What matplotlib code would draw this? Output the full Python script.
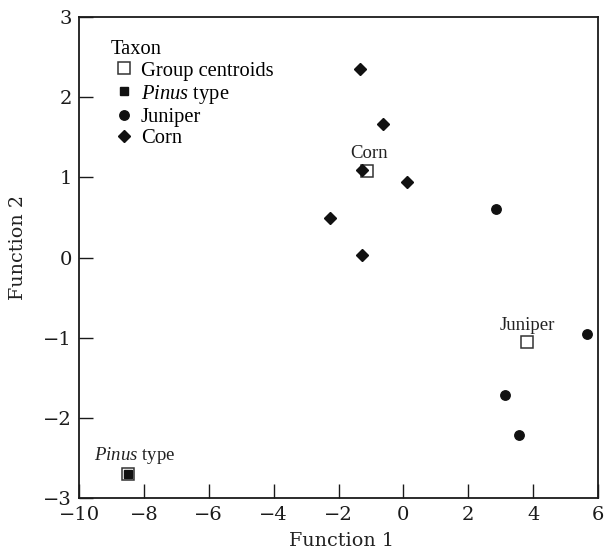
import matplotlib
matplotlib.use("Agg")
import matplotlib.pyplot as plt
from matplotlib.lines import Line2D

plt.rcParams['font.family'] = 'Liberation Serif'
plt.rcParams['mathtext.fontset'] = 'custom'
plt.rcParams['mathtext.it'] = 'Liberation Serif:italic'
plt.rcParams['mathtext.rm'] = 'Liberation Serif'

# discriminant scores
corn_x = [-1.34, -0.63, -1.28, 0.11, -2.26, -1.28]
corn_y = [2.35, 1.66, 1.09, 0.94, 0.49, 0.03]
juniper_x = [2.85, 5.67, 3.13, 3.57]
juniper_y = [0.61, -0.95, -1.72, -2.21]
pinus_x = [-8.5]
pinus_y = [-2.70]

centroid_names = ["Corn", "Juniper", r"$\it{Pinus}$ type"]
centroid_x = [-1.12, 3.82, -8.5]
centroid_y = [1.08, -1.06, -2.70]
label_offsets = [(2, 17), (0, 17), (7, 18)]

xticks = [-10, -8, -6, -4, -2, 0, 2, 4, 6]
yticks = [-3, -2, -1, 0, 1, 2, 3]

fig = plt.figure(figsize=(6.06, 5.57), dpi=100)
ax = fig.add_axes([0.1304, 0.1059, 0.8564, 0.8636])

ax.plot(centroid_x, centroid_y, ls='none', marker='s', ms=8.5, mfc='white',
        mec='#333333', mew=1.1, zorder=2)
ax.plot(pinus_x, pinus_y, ls='none', marker='s', ms=5.3, color='#111111', zorder=3)
ax.plot(juniper_x, juniper_y, ls='none', marker='o', ms=6.8, color='#111111', zorder=3)
ax.plot(corn_x, corn_y, ls='none', marker='D', ms=6, color='#111111', zorder=3)

for name, x, y, off in zip(centroid_names, centroid_x, centroid_y, label_offsets):
    ax.annotate(name, (x, y), xytext=off, textcoords='offset pixels',
                ha='center', va='center', fontsize=13.5, color='#222222')

ax.set_xlim(-10, 6)
ax.set_ylim(-3, 3)
ax.set_xticks(xticks)
ax.set_yticks(yticks)
ax.set_xticklabels([str(t).replace('-', '\u2212') for t in xticks], family='DejaVu Serif')
ax.set_yticklabels([str(t).replace('-', '\u2212') for t in yticks], family='DejaVu Serif')
ax.tick_params(direction='in', length=10, width=1, labelsize=14, colors='#1a1a1a')
ax.tick_params(axis='x', pad=6)
ax.tick_params(axis='y', pad=5)
for s in ax.spines.values():
    s.set_linewidth(1.3)
    s.set_color('#1a1a1a')

ax.set_xlabel("Function 1", fontsize=13.8, family='DejaVu Serif', color='#222222')
ax.set_ylabel("Function 2", fontsize=13.8, family='DejaVu Serif', color='#222222')
ax.xaxis.set_label_coords(0.505, -0.07)
ax.yaxis.set_label_coords(-0.1, 0.52)

handles = [
    Line2D([], [], ls='none', marker='s', ms=8.5, mfc='white', mec='#333333', mew=1.1),
    Line2D([], [], ls='none', marker='s', ms=5.3, color='#111111'),
    Line2D([], [], ls='none', marker='o', ms=6.8, color='#111111'),
    Line2D([], [], ls='none', marker='D', ms=6, color='#111111'),
]
labels = ["Group centroids", r"$\it{Pinus}$ type", "Juniper", "Corn"]
leg = ax.legend(handles, labels, title="Taxon", loc='upper left',
                bbox_to_anchor=(0.0615, 0.952), frameon=False, fontsize=14.8,
                title_fontsize=14.8, handlelength=1.3, handletextpad=0.15,
                labelspacing=0.1, borderaxespad=0, borderpad=0)
leg._legend_box.align = 'left'

fig.savefig("out.png", dpi=100)
